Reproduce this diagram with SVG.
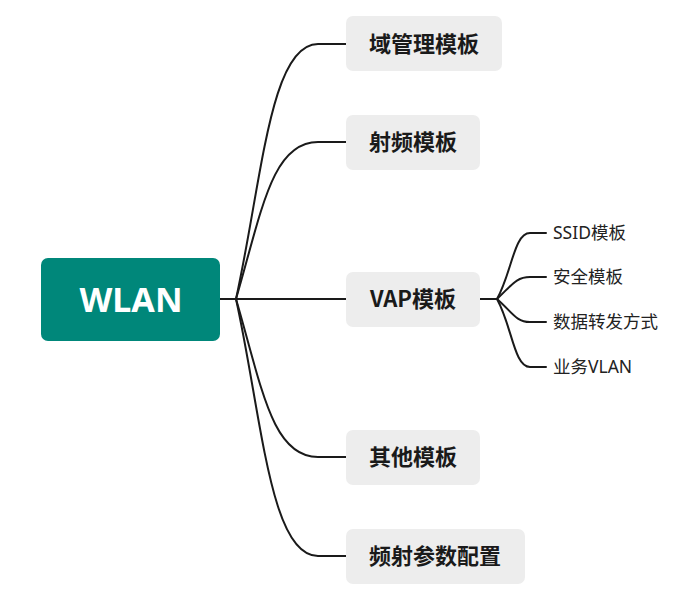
<svg xmlns="http://www.w3.org/2000/svg" width="690" height="599" viewBox="0 0 690 599">
<style>
.main rect{fill:#ededed}
.main text{font-family:"Noto Sans CJK SC","Noto Sans",sans-serif;font-weight:bold;font-size:22px;fill:#1a1a1a;text-anchor:middle}
.sub text{font-family:"Noto Sans","Noto Sans CJK SC",sans-serif;font-size:17.5px;fill:#222}
.conn path{fill:none;stroke:#1a1a1a;stroke-width:2;stroke-linecap:round}
</style>
<rect width="690" height="599" fill="#fff"/>
<g class="conn">
<path d="M220,299 L236,299"/>
<path d="M236,299 C262,180 270,44 318,44 L346,44"/>
<path d="M236,299 C262,210 272,142 318,142 L346,142"/>
<path d="M236,299 L346,299"/>
<path d="M236,299 C262,388 272,457 318,457 L346,457"/>
<path d="M236,299 C262,418 270,556 318,556 L346,556"/>
<path d="M480,299 L497,299"/>
<path d="M497,299 C512,272 514,233 530,233 L546,233"/>
<path d="M497,299 C512,285 516,277 530,277 L546,277"/>
<path d="M497,299 C512,312 516,322 530,322 L546,322"/>
<path d="M497,299 C512,326 514,367 530,367 L546,367"/>
</g>
<g id="root">
<rect x="41" y="258" width="179" height="83" rx="7" fill="#00877a"/>
<text x="131" y="312" font-family="'Noto Sans',sans-serif" font-weight="bold" font-size="34" fill="#fff" text-anchor="middle">WLAN</text>
</g>
<g id="n1" class="main"><rect x="346" y="16" width="156" height="55" rx="7"/><text x="424" y="52">域管理模板</text></g>
<g id="n2" class="main"><rect x="346" y="115" width="134" height="55" rx="7"/><text x="413" y="150">射频模板</text></g>
<g id="n3" class="main"><rect x="346" y="272" width="134" height="55" rx="7"/><text x="413" y="307">VAP模板</text></g>
<g id="n4" class="main"><rect x="346" y="430" width="134" height="55" rx="7"/><text x="413" y="465">其他模板</text></g>
<g id="n5" class="main"><rect x="346" y="529" width="179" height="55" rx="7"/><text x="435" y="564">频射参数配置</text></g>
<g id="s1" class="sub"><text x="553" y="239">SSID模板</text></g>
<g id="s2" class="sub"><text x="553" y="283">安全模板</text></g>
<g id="s3" class="sub"><text x="553" y="328">数据转发方式</text></g>
<g id="s4" class="sub"><text x="553" y="373">业务VLAN</text></g>
</svg>
